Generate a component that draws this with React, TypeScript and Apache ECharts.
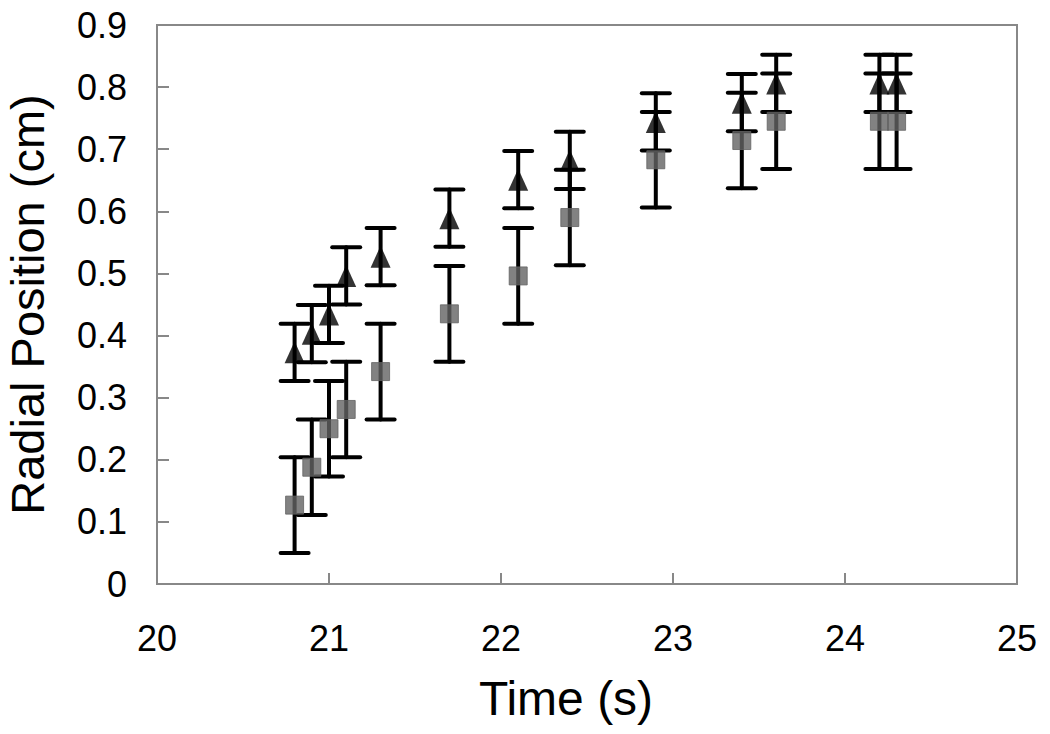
import React, { useEffect, useRef } from "react";
import * as echarts from "echarts";

const timeValues = [20.8, 20.9, 21.0, 21.1, 21.3, 21.7, 22.1, 22.4, 22.9, 23.4, 23.6, 24.2, 24.3];
const triangleValues = [0.373, 0.403, 0.434, 0.496, 0.527, 0.589, 0.651, 0.682, 0.744, 0.775, 0.806, 0.806, 0.806];
const triangleErrors = [0.046, 0.046, 0.046, 0.046, 0.046, 0.046, 0.046, 0.046, 0.046, 0.046, 0.046, 0.046, 0.046];
const squareValues = [0.127, 0.188, 0.25, 0.281, 0.342, 0.435, 0.496, 0.59, 0.683, 0.714, 0.745, 0.745, 0.745];
const squareErrors = [0.077, 0.077, 0.077, 0.077, 0.077, 0.077, 0.077, 0.077, 0.077, 0.077, 0.077, 0.077, 0.077];

const FONT = "'Liberation Sans', Arial, Helvetica, sans-serif";

function errorData(values: number[], errs: number[]) {
  return timeValues.map((t, i) => [t, values[i] - errs[i], values[i] + errs[i]]);
}

function renderError(params: any, api: any) {
  const x = api.value(0);
  const lo = api.coord([x, api.value(1)]);
  const hi = api.coord([x, api.value(2)]);
  const half = 14;
  const style = { stroke: "#000", lineWidth: 4, lineCap: "round" };
  return {
    type: "group",
    children: [
      { type: "line", shape: { x1: lo[0], y1: lo[1], x2: hi[0], y2: hi[1] }, style },
      { type: "line", shape: { x1: lo[0] - half, y1: lo[1], x2: lo[0] + half, y2: lo[1] }, style },
      { type: "line", shape: { x1: hi[0] - half, y1: hi[1], x2: hi[0] + half, y2: hi[1] }, style },
    ],
  };
}

export default function App() {
  const ref = useRef<HTMLDivElement>(null);
  useEffect(() => {
    if (!ref.current) return;
    const chart = echarts.init(ref.current, undefined, { renderer: "svg" });
    const axisColor = "#888";
    chart.setOption({
      animation: false,
      backgroundColor: "#fff",
      grid: {
        left: 157,
        right: 33,
        top: 25,
        bottom: 150,
        containLabel: false,
        outerBoundsMode: "none",
        show: true,
        borderColor: axisColor,
        borderWidth: 2,
        backgroundColor: "transparent",
      },
      xAxis: {
        type: "value",
        min: 20,
        max: 25,
        interval: 1,
        name: "Time (s)",
        nameLocation: "middle",
        nameGap: 90,
        nameTextStyle: { fontFamily: FONT, fontSize: 48, color: "#000", padding: [0, 42, 0, 0] },
        axisLine: { show: true, lineStyle: { color: axisColor, width: 2 } },
        axisTick: { show: true, inside: true, length: 11, lineStyle: { color: axisColor, width: 2 } },
        axisLabel: { fontFamily: FONT, fontSize: 36, color: "#000", margin: 36 },
        splitLine: { show: false },
      },
      yAxis: {
        type: "value",
        min: 0,
        max: 0.9,
        interval: 0.1,
        name: "Radial Position (cm)",
        nameLocation: "middle",
        nameGap: 106,
        nameTextStyle: { fontFamily: FONT, fontSize: 47, color: "#000" },
        axisLine: { show: true, lineStyle: { color: axisColor, width: 2 } },
        axisTick: { show: true, inside: true, length: 12, lineStyle: { color: axisColor, width: 2 } },
        axisLabel: {
          fontFamily: FONT,
          fontSize: 36,
          color: "#000",
          margin: 30,
          formatter: (v: number) => (v === 0 ? "0" : v.toFixed(1)),
        },
        splitLine: { show: false },
      },
      series: [
        {
          type: "custom",
          name: "Square error",
          renderItem: renderError,
          data: errorData(squareValues, squareErrors),
          encode: { x: 0, y: [1, 2] },
          z: 1,
        },
        {
          type: "custom",
          name: "Triangle error",
          renderItem: renderError,
          data: errorData(triangleValues, triangleErrors),
          encode: { x: 0, y: [1, 2] },
          z: 1,
        },
        {
          type: "scatter",
          name: "Squares",
          symbol: "rect",
          symbolSize: 18,
          itemStyle: { color: "#636363", borderColor: "#636363", borderWidth: 1, borderJoin: "round" },
          data: timeValues.map((t, i) => [t, squareValues[i]]),
          z: 3,
        },
        {
          type: "scatter",
          name: "Triangles",
          symbol: "triangle",
          symbolSize: [20, 22],
          itemStyle: { color: "#000" },
          data: timeValues.map((t, i) => [t, triangleValues[i]]),
          z: 4,
        },
      ],
    });
    return () => chart.dispose();
  }, []);
  return (
    <div
      ref={ref}
      style={{ position: "fixed", left: 0, top: 0, width: 1050, height: 734, background: "#fff" }}
    />
  );
}
